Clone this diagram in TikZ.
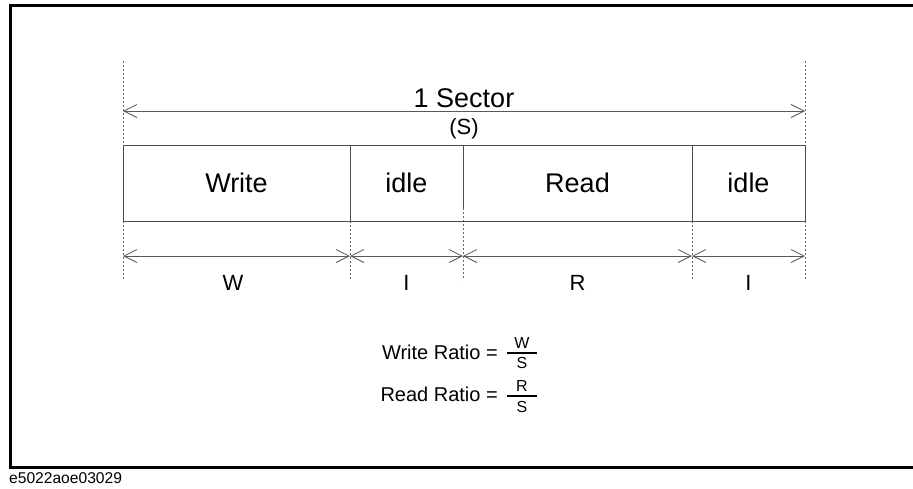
\documentclass[tikz,border=0pt]{standalone}
\usepackage{fontspec}
\setmainfont{Liberation Sans}
\usetikzlibrary{arrows.meta}
\tikzset{
  frameline/.style={line width=3pt,black},
  guide/.style={line width=0.6pt,gray!80!black,dash pattern=on 2pt off 2pt},
  boxline/.style={line width=0.9pt,gray!60!black},
  dimarrow/.style={line width=0.8pt,gray!70!black,{Straight Barb[length=13pt,width=13pt]}-{Straight Barb[length=13pt,width=13pt]}},
  bigtxt/.style={font=\fontsize{27}{31}\selectfont,inner sep=0pt,anchor=base},
  midtxt/.style={font=\fontsize{22}{26}\selectfont,inner sep=0pt,anchor=base},
  eqtxt/.style={font=\fontsize{20}{24}\selectfont,inner sep=0pt,anchor=base},
  fractxt/.style={font=\fontsize{16}{19}\selectfont,inner sep=0pt,anchor=base},
  smalltxt/.style={font=\fontsize{15.6}{18}\selectfont,inner sep=0pt,anchor=base west},
}
\begin{document}
\begin{tikzpicture}[x=1pt,y=-1pt]
\useasboundingbox (0,0) rectangle (913,488);
% frame (right side runs off the picture)
\draw[frameline] (920,5.5) -- (10.5,5.5) -- (10.5,467) -- (920,467);
\node[smalltxt] (fig) at (9,483) {e5022aoe03029};
% guide coordinates
\coordinate (gL) at (123,61);
\coordinate (gLb) at (123,280);
\coordinate (gR) at (805,61);
\coordinate (gRb) at (805,280);
\coordinate (g1) at (350,221);
\coordinate (g1b) at (350,280);
\coordinate (g2) at (463,208);
\coordinate (g2b) at (463,280);
\coordinate (g3) at (692,221);
\coordinate (g3b) at (692,280);
\draw[guide] (gL) -- (gLb);
\draw[guide] (gR) -- (gRb);
\draw[guide] (g1) -- (g1b);
\draw[guide] (g2) -- (g2b);
\draw[guide] (g3) -- (g3b);
% sector arrow
\coordinate (tL) at (123,111);
\coordinate (tR) at (805,111);
\draw[dimarrow] (tL) -- (tR);
\node[bigtxt] (sector) at (464,107) {1 Sector};
\node[midtxt] (S) at (464,134) {(S)};
% box
\coordinate (bTL) at (123,145);
\coordinate (bBR) at (805,221);
\draw[boxline] (bTL) rectangle (bBR);
\coordinate (d1t) at (350,145); \coordinate (d1b) at (350,221);
\coordinate (d2t) at (463,145); \coordinate (d2b) at (463,208);
\coordinate (d3t) at (692,145); \coordinate (d3b) at (692,221);
\draw[boxline] (d1t) -- (d1b);
\draw[boxline] (d2t) -- (d2b);
\draw[boxline] (d3t) -- (d3b);
\node[bigtxt] (write) at (236.5,192) {Write};
\node[bigtxt] (idle1) at (406.5,192) {idle};
\node[bigtxt] (read) at (577.5,192) {Read};
\node[bigtxt] (idle2) at (748.5,192) {idle};
% dimension arrows
\coordinate (a0) at (123,256);
\coordinate (a1) at (350,256);
\coordinate (a2) at (463,256);
\coordinate (a3) at (692,256);
\coordinate (a4) at (805,256);
\draw[dimarrow] (a0) -- (a1);
\draw[dimarrow] (a1) -- (a2);
\draw[dimarrow] (a2) -- (a3);
\draw[dimarrow] (a3) -- (a4);
\node[midtxt] (lW) at (233,290) {W};
\node[midtxt] (lI1) at (406.5,290) {I};
\node[midtxt] (lR) at (577.5,290) {R};
\node[midtxt] (lI2) at (748.5,290) {I};
% formulas
\node[eqtxt,anchor=base east] (wr) at (498,359) {Write Ratio =};
\node[fractxt] (wn) at (522,348) {W};
\coordinate (wb1) at (507,353); \coordinate (wb2) at (537,353);
\draw[line width=1.1pt,black] (wb1) -- (wb2);
\node[fractxt] (wd) at (522,368.5) {S};
\node[eqtxt,anchor=base east] (rr) at (498,401) {Read Ratio =};
\node[fractxt] (rn) at (522,391) {R};
\coordinate (rb1) at (507,396); \coordinate (rb2) at (537,396);
\draw[line width=1.1pt,black] (rb1) -- (rb2);
\node[fractxt] (rd) at (522,412) {S};
\end{tikzpicture}
\end{document}
